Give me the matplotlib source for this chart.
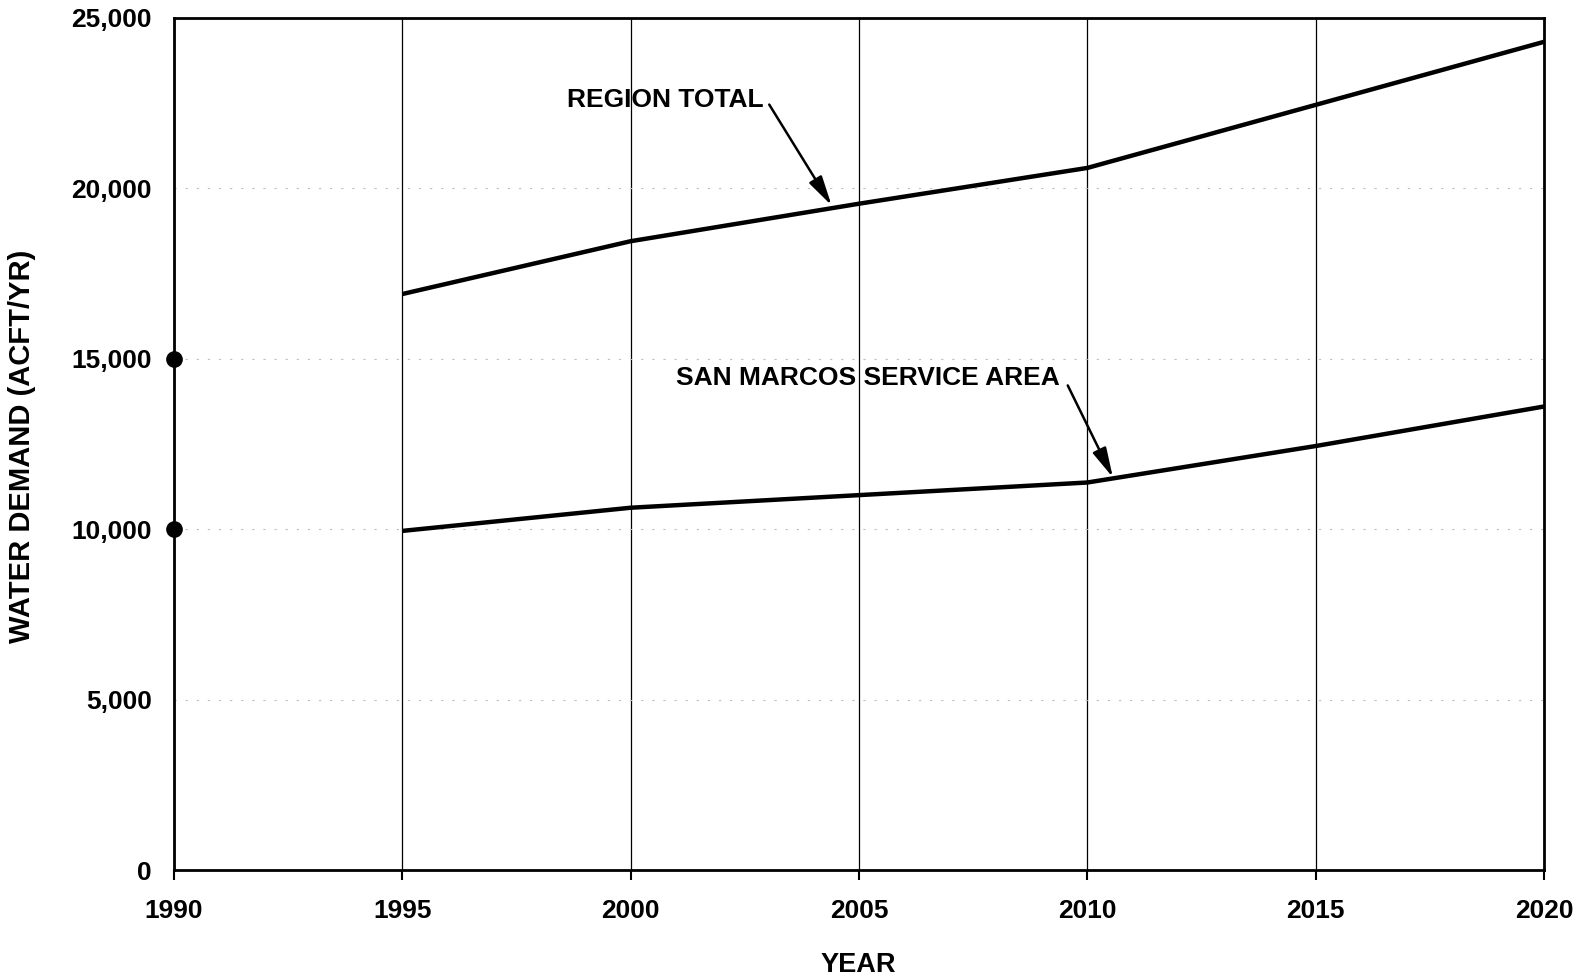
import matplotlib.pyplot as plt
import numpy as np

plt.rcParams['font.family'] = ['Liberation Sans', 'DejaVu Sans']
plt.rcParams['font.weight'] = 'bold'

# projection years and demands (acre-ft / yr)
years = [1995, 2000, 2005, 2010, 2015, 2020]
region_total = [16900, 18450, 19550, 20600, 22450, 24300]
san_marcos = [9950, 10630, 11000, 11370, 12440, 13600]

# the two dots sitting on the 1990 axis
dot_years = [1990, 1990]
dot_values = [15000, 10000]

x_ticks = [1990, 1995, 2000, 2005, 2010, 2015, 2020]
y_ticks = [0, 5000, 10000, 15000, 20000, 25000]

fig = plt.figure(figsize=(15.86, 9.77), dpi=100)
ax = fig.add_axes([0.1097, 0.1095, 0.8638, 0.8721])

ax.plot(years, region_total, color='black', lw=3.2, solid_capstyle='butt')
ax.plot(years, san_marcos, color='black', lw=3.2, solid_capstyle='butt')
ax.plot(dot_years, dot_values, 'o', color='black', ms=11, clip_on=False, zorder=5)

ax.set_xlim(1990, 2020)
ax.set_ylim(0, 25000)
ax.set_xticks(x_ticks)
ax.set_yticks(y_ticks)
ax.set_yticklabels([f'{v:,}' for v in y_ticks])

# thin vertical gridlines, faint broken horizontal ones (scan look)
ax.xaxis.grid(True, color='black', lw=0.9)
ax.yaxis.grid(True, color='0.75', lw=0.8, linestyle=(0, (2, 8)))

for side in ['left', 'right', 'top', 'bottom']:
    ax.spines[side].set_linewidth(2.0)

ax.tick_params(axis='x', direction='out', length=7, width=1.5, pad=14, labelsize=19)
ax.tick_params(axis='y', length=0, pad=16, labelsize=19)
for lab in ax.get_xticklabels() + ax.get_yticklabels():
    lab.set_fontweight('bold')

# callouts
arrow = dict(arrowstyle='-|>,head_length=0.9,head_width=0.22', color='black', lw=1.8,
             mutation_scale=20, shrinkA=0, shrinkB=0)
ax.annotate('REGION TOTAL', xy=(2004.4, 19500), xytext=(1998.6, 22600),
            fontsize=19, fontweight='bold', va='center', ha='left',
            arrowprops=dict(arrow, relpos=(1.03, 0.3)))
ax.annotate('SAN MARCOS SERVICE AREA', xy=(2010.56, 11520), xytext=(2001.0, 14430),
            fontsize=19, fontweight='bold', va='center', ha='left',
            arrowprops=dict(arrow, relpos=(1.02, 0.2)))

fig.text(0.0139, 0.543, 'WATER DEMAND (ACFT/YR)', rotation=90, ha='center', va='center',
         fontsize=21, fontweight='bold')
fig.text(0.541, 0.0123, 'YEAR', ha='center', va='center', fontsize=19.5, fontweight='bold')

fig.savefig('out.png', dpi=100, facecolor='white')
